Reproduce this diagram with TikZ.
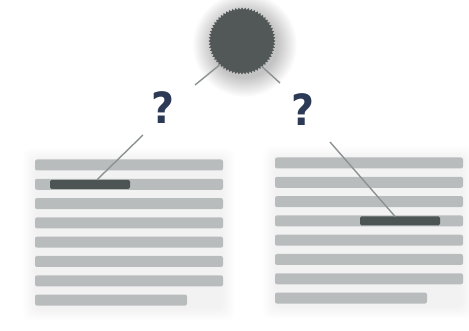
\documentclass[tikz,border=0pt]{standalone}
\usepackage{fontspec}
\newfontfamily\qfont{DejaVu Sans}[BoldFont=DejaVu Sans Bold]
\usetikzlibrary{shapes.geometric}
\definecolor{bargray}{RGB}{185,188,189}
\definecolor{hlgray}{RGB}{77,84,84}
\definecolor{hubgray}{RGB}{82,88,88}
\definecolor{conngray}{RGB}{140,146,146}
\definecolor{qnavy}{RGB}{44,58,85}
\tikzset{
  bar/.style={fill=bargray, rounded corners=2},
  hlbar/.style={rectangle, fill=hlgray, rounded corners=1.5, minimum width=80, minimum height=9, inner sep=0},
  conn/.style={draw=conngray, line width=1.4},
  qmark/.style={text=qnavy, font=\qfont\bfseries\fontsize{43}{43}\selectfont, inner sep=0, xscale=0.92},
  hubstyle/.style={star, star points=64, star point ratio=1.07, minimum size=67, inner sep=0, fill=hubgray},
}
\begin{document}
\begin{tikzpicture}[x=1pt,y=-1pt]
\useasboundingbox (0,0) rectangle (469,331);
\fill[white] (0,0) rectangle (469,331);
% glow behind hub
\foreach \r in {33,34,...,52} {
  \fill[black, fill opacity=0.011] (245,45) circle (\r);
}
% document glows
\foreach \m in {0,1,...,12} {
  \fill[black, fill opacity=0.0035, rounded corners=8] (35-\m,158-\m+2) rectangle (223+\m,307+\m+2);
  \fill[black, fill opacity=0.0035, rounded corners=8] (275-\m,156-\m+2) rectangle (463+\m,305+\m+2);
}
% left document bars
\foreach \i in {0,...,6} {
  \fill[bar] (35,{165+19.3*\i-5.5}) rectangle (223,{165+19.3*\i+5.5});
}
\fill[bar] (35,{165+19.3*7-5.5}) rectangle (187,{165+19.3*7+5.5});
% right document bars
\foreach \i in {0,...,6} {
  \fill[bar] (275,{163+19.3*\i-5.5}) rectangle (463,{163+19.3*\i+5.5});
}
\fill[bar] (275,{163+19.3*7-5.5}) rectangle (427,{163+19.3*7+5.5});
% highlighted bars
\node[hlbar] (h1) at (90,184.3) {};
\node[hlbar] (h2) at (400,220.9) {};
% hub
\node[hubstyle] (hub) at (242,41) {};
% question marks
\node[qmark] (q1) at (163,108) {?};
\node[qmark] (q2) at (303,110) {?};
% connector ends
\coordinate (c1) at (195,85);
\coordinate (c2) at (280,83);
\coordinate (c3) at (143,135);
\coordinate (c4) at (330,142);
\coordinate (e3) at (97,179.8);
\coordinate (e4) at (395,216.4);
% connectors
\draw[conn] (hub.227) -- (c1);
\draw[conn] (hub.-52) -- (c2);
\draw[conn] (c3) -- (e3);
\draw[conn] (c4) -- (e4);
\end{tikzpicture}
\end{document}
